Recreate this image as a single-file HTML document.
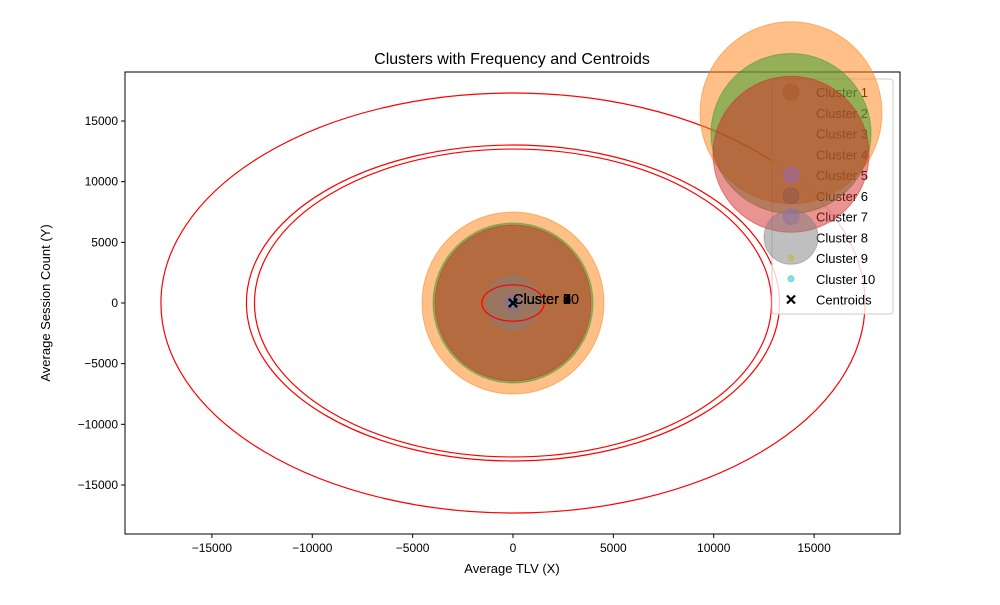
<!DOCTYPE html>
<html><head><meta charset="utf-8"><style>
body{margin:0;background:#fff}
svg{font-family:"Liberation Sans","DejaVu Sans",sans-serif}
</style></head><body>
<svg id="chart" width="1000" height="600" viewBox="0 0 1000 600">
<rect width="1000" height="600" fill="#fff"/>
<defs><clipPath id="plotclip"><rect x="125" y="72" width="775" height="462"/></clipPath></defs>
<text x="512" y="64" text-anchor="middle" font-size="16">Clusters with Frequency and Centroids</text>
<g id="marks" clip-path="url(#plotclip)"></g>
<g id="axes"></g>
<g id="legend"></g>
<g id="legendbig"></g>
</svg>
<script>
const xTicks=[-15000,-10000,-5000,0,5000,10000,15000];
const yTicks=[-15000,-10000,-5000,0,5000,10000,15000];
const clusterNames=["Cluster 1","Cluster 2","Cluster 3","Cluster 4","Cluster 5","Cluster 6","Cluster 7","Cluster 8","Cluster 9","Cluster 10"];
const clusterX=[0,0,0,0,0,0,0,0,0,0];
const clusterY=[0,0,0,0,0,0,0,0,0,0];
const clusterRadiusPx=[8,91,80,78,8,8,8,27,3,3];
const clusterColors=["#8c564b","#ff7f0e","#2ca02c","#d62728","#9467bd","#8c564b","#9467bd","#7f7f7f","#bcbd22","#17becf"];
const ellipseRadii=[17540,13280,12880,1550];
const ellipseRadiiY=[17310,13020,12690,1500];

const L=125,R=900,T=72,B=534,xmin=-19330,xmax=19280,ymin=-19040,ymax=19040;
const sx=v=>L+(v-xmin)/(xmax-xmin)*(R-L);
const sy=v=>B-(v-ymin)/(ymax-ymin)*(B-T);
const NS="http://www.w3.org/2000/svg";
function mk(t,a,p){const e=document.createElementNS(NS,t);for(const k in a)e.setAttribute(k,a[k]);p.appendChild(e);return e;}
const marks=document.getElementById('marks'),axes=document.getElementById('axes'),leg=document.getElementById('legend'),legBig=document.getElementById('legendbig');

clusterNames.forEach((n,i)=>{
  const c=mk('circle',{cx:sx(clusterX[i]),cy:sy(clusterY[i]),r:clusterRadiusPx[i],fill:clusterColors[i],'fill-opacity':0.5,stroke:clusterColors[i],'stroke-opacity':0.5},marks);
  
  
});
ellipseRadii.forEach((r,i)=>{
  const e=mk('ellipse',{cx:sx(0),cy:sy(0),rx:sx(r)-sx(0),ry:sy(0)-sy(ellipseRadiiY[i]),fill:'none',stroke:'#ff0000','stroke-width':1.2},marks);
  
  
});
clusterNames.forEach((n,i)=>{
  const t=mk('text',{x:sx(clusterX[i]),y:sy(clusterY[i])+1,'font-size':14.5,fill:'#000'},marks);
  t.textContent=n;
  
  
  const cx=sx(clusterX[i]),cy=sy(clusterY[i]);
  const m=mk('path',{d:`M${cx-4},${cy-4}L${cx+4},${cy+4}M${cx-4},${cy+4}L${cx+4},${cy-4}`,stroke:'#000','stroke-width':2.2},marks);
  
  
});

const frame=mk('rect',{x:L,y:T,width:R-L,height:B-T,fill:'none',stroke:'#000','stroke-width':1},axes);


xTicks.forEach(v=>{
  const x=sx(v);
  mk('line',{x1:x,x2:x,y1:B,y2:B+4,stroke:'#000'},axes);
  const t=mk('text',{x:x,y:B+18,'font-size':12,'text-anchor':'middle'},axes);
  t.textContent=v<0?'\u2212'+Math.abs(v):String(v);
  
  
});
yTicks.forEach(v=>{
  const y=sy(v);
  mk('line',{x1:L-4,x2:L,y1:y,y2:y,stroke:'#000'},axes);
  const t=mk('text',{x:L-7,y:y+4,'font-size':12,'text-anchor':'end'},axes);
  t.textContent=v<0?'\u2212'+Math.abs(v):String(v);
  
  
});
const xl=mk('text',{x:512,y:573,'font-size':13,'text-anchor':'middle'},axes);
xl.textContent='Average TLV (X)';


const yl=mk('text',{x:50,y:303,'font-size':13,'text-anchor':'middle',transform:'rotate(-90 50 303)'},axes);
yl.textContent='Average Session Count (Y)';



// legend
const lb=mk('rect',{x:772,y:79,width:121,height:235,rx:3,fill:'#fff','fill-opacity':0.8,stroke:'#ccc'},leg);


const rowY=i=>92+i*20.75;
clusterNames.forEach((n,i)=>{
  const t=mk('text',{x:816,y:rowY(i)+5,'font-size':13},leg);
  t.textContent=n;
  
  
});
clusterNames.forEach((n,i)=>{
  const c=mk('circle',{cx:791,cy:rowY(i),r:clusterRadiusPx[i],fill:clusterColors[i],'fill-opacity':0.5,stroke:clusterColors[i],'stroke-opacity':0.5},legBig);
  
  
});
const cy=rowY(10);
mk('path',{d:`M787,${cy-4}L795,${cy+4}M787,${cy+4}L795,${cy-4}`,stroke:'#000','stroke-width':2.2},leg);
const ct=mk('text',{x:816,y:cy+5,'font-size':13},leg);
ct.textContent='Centroids';


</script>
</body></html>
